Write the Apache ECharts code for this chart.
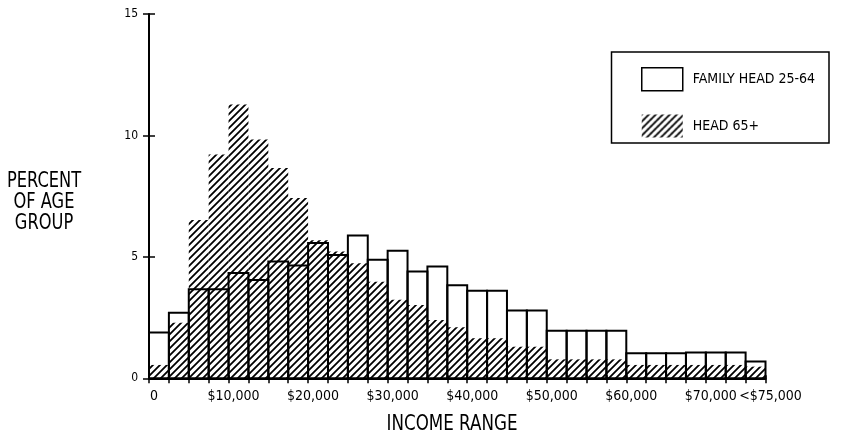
<!DOCTYPE html>
<html><head><meta charset="utf-8">
<script src="https://cdn.jsdelivr.net/npm/echarts@6/dist/echarts.min.js"></script>
<style>html,body{margin:0;padding:0;background:#fff}#c{width:842px;height:438px}</style>
</head><body><div id="c"></div>
<script>
// ---- data ----
const BIN_WIDTH = 2500;
const binStart = [0, 2500, 5000, 7500, 10000, 12500, 15000, 17500, 20000, 22500,
  25000, 27500, 30000, 32500, 35000, 37500, 40000, 42500, 45000, 47500,
  50000, 52500, 55000, 57500, 60000, 62500, 65000, 67500, 70000, 72500, 75000];
const familyHead2564 = [1.89, 2.70, 3.67, 3.67, 4.34, 4.05, 4.81, 4.64, 5.57, 5.08,
  5.88, 4.88, 5.25, 4.40, 4.60, 3.83, 3.60, 3.60, 2.79, 2.79,
  1.96, 1.96, 1.96, 1.96, 1.03, 1.03, 1.03, 1.06, 1.06, 1.06, 0.69];
const head65 = [0.55, 2.29, 6.52, 9.21, 11.27, 9.83, 8.66, 7.42, 5.68, 5.22,
  4.74, 3.98, 3.23, 3.02, 2.40, 2.10, 1.65, 1.65, 1.30, 1.30,
  0.78, 0.78, 0.78, 0.78, 0.55, 0.55, 0.55, 0.55, 0.55, 0.55, 0.48];
const xTickValues = [0, 10000, 20000, 30000, 40000, 50000, 60000, 70000, 77500];
const xTickLabels = ['0', '$10,000', '$20,000', '$30,000', '$40,000', '$50,000', '$60,000', '$70,000', '<$75,000'];
const seriesNames = ['FAMILY HEAD 25-64', 'HEAD 65+'];
const yTitleLines = ['PERCENT', 'OF AGE', 'GROUP'];
const xTitle = 'INCOME RANGE';

const FONT = "'Liberation Sans Narrow','DejaVu Sans Condensed','Arial Narrow',sans-serif";

function makeHatch() {
  const s = 7, c = document.createElement('canvas');
  c.width = s; c.height = s;
  const g = c.getContext('2d');
  g.strokeStyle = '#000'; g.lineWidth = 1.8; g.lineCap = 'square';
  g.beginPath();
  g.moveTo(0, s); g.lineTo(s, 0);
  g.moveTo(-1, 1); g.lineTo(1, -1);
  g.moveTo(s - 1, s + 1); g.lineTo(s + 1, s - 1);
  g.stroke();
  return { image: c, repeat: 'repeat' };
}
const hatch = makeHatch();

function binRect(styleFn) {
  return function (params, api) {
    const x0 = api.value(0), v = api.value(1);
    const a = api.coord([x0, v]);
    const b = api.coord([x0 + BIN_WIDTH, 0]);
    return { type: 'rect', shape: { x: a[0], y: a[1], width: b[0] - a[0], height: b[1] - a[1] }, style: styleFn() };
  };
}

const chart = echarts.init(document.getElementById('c'), null, { renderer: 'canvas' });
chart.setOption({
  animation: false,
  backgroundColor: '#fff',
  grid: { left: 149, right: 76.5, top: 14, bottom: 59.7, containLabel: false, outerBoundsMode: 'none' },
  xAxis: [{
    type: 'value', min: 0, max: 77500, interval: 2500,
    axisLine: { show: true, lineStyle: { color: '#000', width: 2 } },
    axisTick: { show: true, length: 5, lineStyle: { color: '#000', width: 1.5 } },
    splitLine: { show: false },
    axisLabel: {
      show: true, margin: 11, color: '#000', fontFamily: FONT, fontSize: 14,
      padding: [0, 0, 0, 10], showMinLabel: true, showMaxLabel: true, hideOverlap: false,
      formatter: function (v) { const i = xTickValues.indexOf(v); return i >= 0 ? xTickLabels[i] : ''; }
    }
  }, {
    type: 'value', min: 0, max: 77500, interval: 2500, position: 'bottom', offset: 0,
    axisLine: { show: false }, axisLabel: { show: false }, splitLine: { show: false },
    axisTick: { show: true, inside: true, length: 3, lineStyle: { color: '#000', width: 1.5 } }
  }],
  yAxis: [{
    type: 'value', min: 0, max: 15, interval: 5,
    axisLine: { show: true, lineStyle: { color: '#000', width: 2 } },
    axisTick: { show: true, length: 6, lineStyle: { color: '#000', width: 1.5 } },
    splitLine: { show: false },
    axisLabel: { margin: 11, color: '#000', fontFamily: FONT, fontSize: 12 }
  }, {
    type: 'value', min: 0, max: 15, interval: 5, position: 'left', offset: 0,
    axisLine: { show: false }, axisLabel: { show: false }, splitLine: { show: false },
    axisTick: { show: true, inside: true, length: 6, lineStyle: { color: '#000', width: 1.5 } }
  }],
  legend: {
    left: 641, top: 67, orient: 'vertical', padding: 0,
    itemWidth: 41, itemHeight: 23, itemGap: 23, selectedMode: false,
    textStyle: { color: '#000', fontFamily: FONT, fontSize: 14, padding: [0, 0, 0, 5] },
    data: [
      { name: seriesNames[0], icon: 'rect', itemStyle: { color: '#fff', borderColor: '#000', borderWidth: 1.5 } },
      { name: seriesNames[1], icon: 'rect', itemStyle: { color: hatch, borderWidth: 0 } }
    ]
  },
  graphic: [
    { type: 'rect', shape: { x: 611.5, y: 52, width: 217.5, height: 91 },
      style: { fill: 'none', stroke: '#000', lineWidth: 1.5 }, silent: true },
    { type: 'text', x: 44, y: 171, scaleX: 0.86, silent: true,
      style: { text: yTitleLines.join('\n'), fill: '#000', fontFamily: FONT, fontSize: 21,
        lineHeight: 21, align: 'center', verticalAlign: 'top' } },
    { type: 'text', x: 452, y: 414, scaleX: 0.885, silent: true,
      style: { text: xTitle, fill: '#000', fontFamily: FONT, fontSize: 21,
        align: 'center', verticalAlign: 'top' } }
  ],
  series: [
    {
      type: 'custom', name: seriesNames[1], xAxisIndex: 0, yAxisIndex: 0,
      data: binStart.map((x, i) => [x, head65[i]]),
      encode: { x: 0, y: 1 },
      itemStyle: { color: hatch },
      renderItem: binRect(() => ({ fill: hatch, stroke: null, lineWidth: 0 }))
    },
    {
      type: 'custom', name: seriesNames[0], xAxisIndex: 0, yAxisIndex: 0,
      data: binStart.map((x, i) => [x, familyHead2564[i]]),
      encode: { x: 0, y: 1 },
      itemStyle: { color: '#fff', borderColor: '#000', borderWidth: 2 },
      renderItem: binRect(() => ({ fill: 'rgba(0,0,0,0)', stroke: '#000', lineWidth: 2 }))
    }
  ]
});
</script>
</body></html>
